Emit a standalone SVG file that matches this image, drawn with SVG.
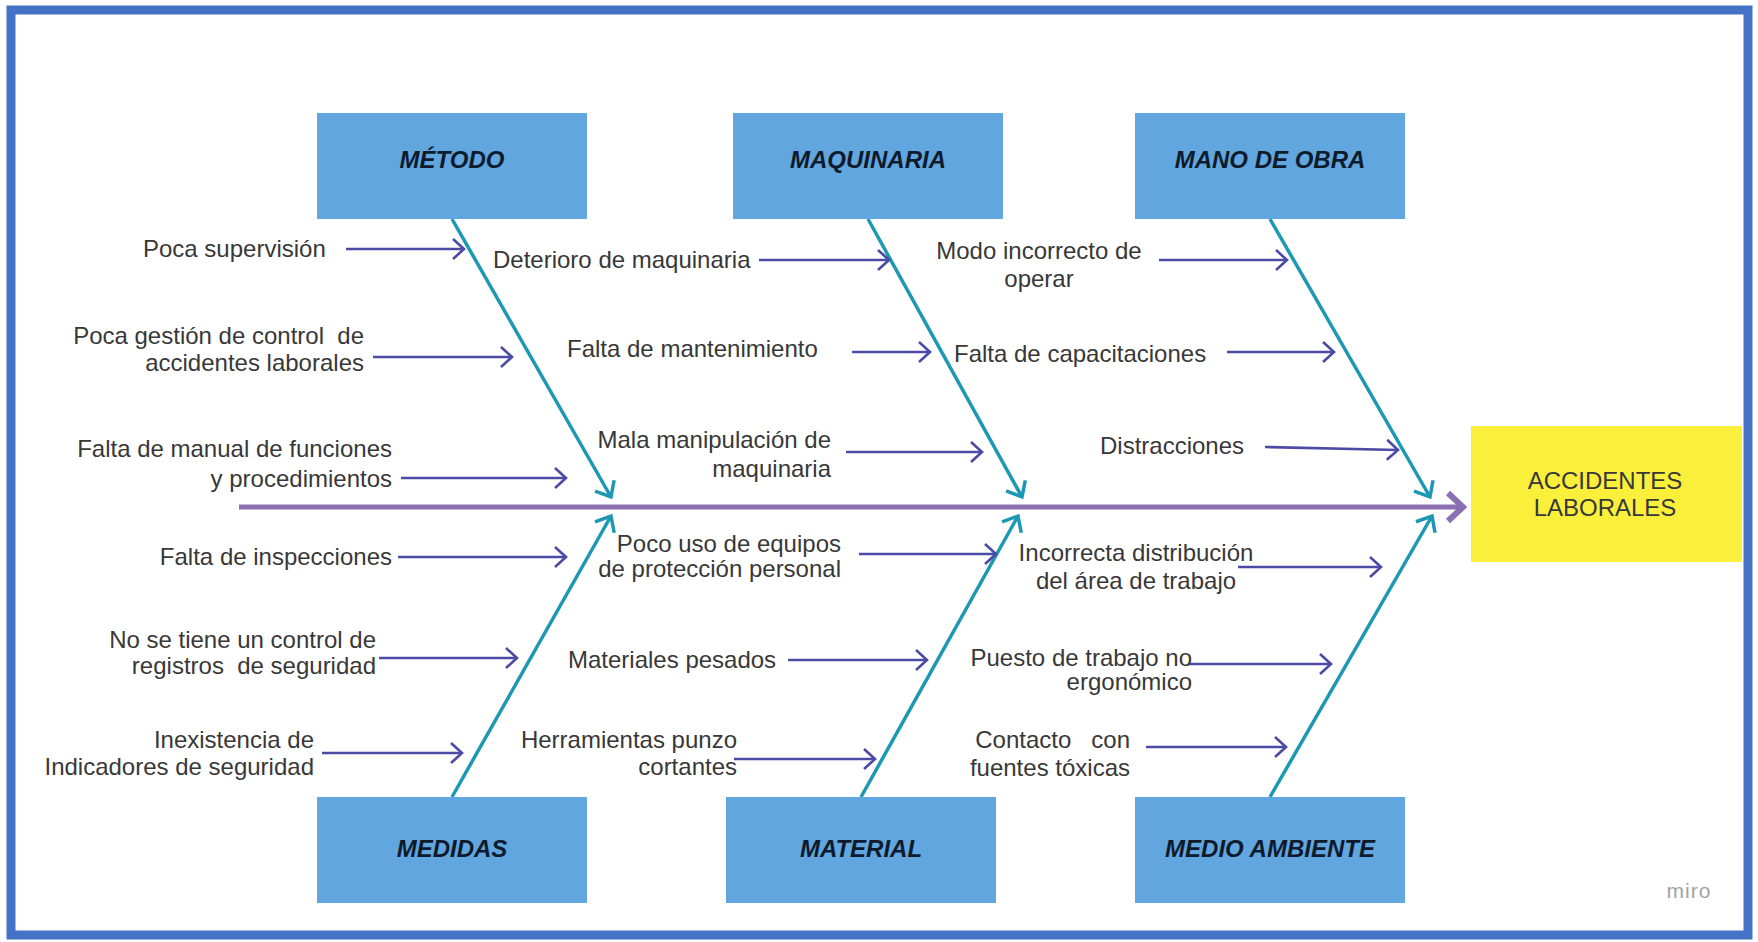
<svg xmlns="http://www.w3.org/2000/svg" width="1758" height="942" viewBox="0 0 1758 942">
<style>
.lbl{font-family:"Liberation Sans",Arial,sans-serif;font-size:24px;fill:#383838}
.hdr{font-family:"Liberation Sans",Arial,sans-serif;font-size:24px;font-weight:bold;font-style:italic;fill:#0e1b2c;text-anchor:middle}
.box{fill:#62a6df}
.cause{stroke:#4b4ba6;stroke-width:2.6;fill:none;marker-end:url(#mc)}
.bone{stroke:#1d98b3;stroke-width:3.5;fill:none;marker-end:url(#mb)}
.e{text-anchor:end}
.m{text-anchor:middle}
</style>
<defs>
<marker id="mc" markerUnits="userSpaceOnUse" markerWidth="16" markerHeight="26" refX="13" refY="12" orient="auto">
<path d="M2,2 L13,12 L2,22" fill="none" stroke="#4b4ba6" stroke-width="2.6"/>
</marker>
<marker id="mb" markerUnits="userSpaceOnUse" markerWidth="18" markerHeight="28" refX="15" refY="13" orient="auto">
<path d="M2,2 L15,13 L2,24" fill="none" stroke="#1d98b3" stroke-width="3.5"/>
</marker>
<marker id="ms" markerUnits="userSpaceOnUse" markerWidth="22" markerHeight="36" refX="18" refY="17" orient="auto">
<path d="M3,3 L18,17 L3,31" fill="none" stroke="#8a70b2" stroke-width="6"/>
</marker>
</defs>
<rect x="0" y="0" width="1758" height="942" fill="#ffffff"/>
<rect x="11" y="10" width="1737" height="925" fill="none" stroke="#4472c4" stroke-width="9"/>

<g id="connectors">
<line x1="239" y1="507" x2="1463" y2="507" stroke="#8a70b2" stroke-width="5" marker-end="url(#ms)"/>
<line class="bone" x1="452" y1="219" x2="611" y2="497"/>
<line class="bone" x1="868" y1="219" x2="1022" y2="497"/>
<line class="bone" x1="1270" y1="219" x2="1430" y2="497"/>
<line class="bone" x1="452" y1="797" x2="611" y2="516"/>
<line class="bone" x1="861" y1="797" x2="1018" y2="516"/>
<line class="bone" x1="1270" y1="797" x2="1432" y2="516"/>
<line class="cause" x1="346" y1="249" x2="464" y2="249"/>
<line class="cause" x1="373" y1="357" x2="512" y2="357"/>
<line class="cause" x1="401" y1="478" x2="566" y2="478"/>
<line class="cause" x1="398" y1="557" x2="566" y2="557"/>
<line class="cause" x1="379" y1="658" x2="517" y2="658"/>
<line class="cause" x1="322" y1="753" x2="462" y2="753"/>
<line class="cause" x1="759" y1="260" x2="889" y2="260"/>
<line class="cause" x1="852" y1="352" x2="930" y2="352"/>
<line class="cause" x1="846" y1="452" x2="982" y2="452"/>
<line class="cause" x1="859" y1="554" x2="996" y2="554"/>
<line class="cause" x1="788" y1="660" x2="927" y2="660"/>
<line class="cause" x1="734" y1="759" x2="875" y2="759"/>
<line class="cause" x1="1159" y1="260" x2="1287" y2="260"/>
<line class="cause" x1="1227" y1="352" x2="1334" y2="352"/>
<line class="cause" x1="1265" y1="447" x2="1398" y2="450"/>
<line class="cause" x1="1238" y1="567" x2="1381" y2="567"/>
<line class="cause" x1="1188" y1="664" x2="1331" y2="664"/>
<line class="cause" x1="1146" y1="747" x2="1286" y2="747"/>
</g>

<g id="metodo"><rect class="box" x="317" y="113" width="270" height="106"/><text class="hdr" x="452" y="168">MÉTODO</text></g>
<g id="maquinaria"><rect class="box" x="733" y="113" width="270" height="106"/><text class="hdr" x="868" y="168">MAQUINARIA</text></g>
<g id="mano-de-obra"><rect class="box" x="1135" y="113" width="270" height="106"/><text class="hdr" x="1270" y="168">MANO DE OBRA</text></g>
<g id="medidas"><rect class="box" x="317" y="797" width="270" height="106"/><text class="hdr" x="452" y="857">MEDIDAS</text></g>
<g id="material"><rect class="box" x="726" y="797" width="270" height="106"/><text class="hdr" x="861" y="857">MATERIAL</text></g>
<g id="medio-ambiente"><rect class="box" x="1135" y="797" width="270" height="106"/><text class="hdr" x="1270" y="857">MEDIO AMBIENTE</text></g>
<g id="accidentes-laborales"><rect x="1471" y="426" width="271" height="136" fill="#faf03c"/><text class="lbl m" x="1605" y="489">ACCIDENTES</text><text class="lbl m" x="1605" y="516">LABORALES</text></g>

<g id="causes">
<text class="lbl" x="143" y="257">Poca supervisión</text>
<text class="lbl e" x="364" y="344" xml:space="preserve">Poca gestión de control  de</text>
<text class="lbl e" x="364" y="371">accidentes laborales</text>
<text class="lbl e" x="392" y="457">Falta de manual de funciones</text>
<text class="lbl e" x="392" y="487">y procedimientos</text>
<text class="lbl e" x="392" y="565">Falta de inspecciones</text>
<text class="lbl e" x="376" y="648">No se tiene un control de</text>
<text class="lbl e" x="376" y="674" xml:space="preserve">registros  de seguridad</text>
<text class="lbl e" x="314" y="748">Inexistencia de</text>
<text class="lbl e" x="314" y="775">Indicadores de seguridad</text>
<text class="lbl" x="493" y="268">Deterioro de maquinaria</text>
<text class="lbl" x="567" y="357">Falta de mantenimiento</text>
<text class="lbl e" x="831" y="448">Mala manipulación de</text>
<text class="lbl e" x="831" y="477">maquinaria</text>
<text class="lbl e" x="841" y="552">Poco uso de equipos</text>
<text class="lbl e" x="841" y="577">de protección personal</text>
<text class="lbl" x="568" y="668">Materiales pesados</text>
<text class="lbl e" x="737" y="748">Herramientas punzo</text>
<text class="lbl e" x="737" y="775">cortantes</text>
<text class="lbl m" x="1039" y="259">Modo incorrecto de</text>
<text class="lbl m" x="1039" y="287">operar</text>
<text class="lbl" x="954" y="362">Falta de capacitaciones</text>
<text class="lbl" x="1100" y="454">Distracciones</text>
<text class="lbl m" x="1136" y="561">Incorrecta distribución</text>
<text class="lbl m" x="1136" y="589">del área de trabajo</text>
<text class="lbl e" x="1192" y="666">Puesto de trabajo no</text>
<text class="lbl e" x="1192" y="690">ergonómico</text>
<text class="lbl e" x="1130" y="748" xml:space="preserve">Contacto   con</text>
<text class="lbl e" x="1130" y="776">fuentes tóxicas</text>
</g>
<text x="1689" y="898" text-anchor="middle" font-family="'Liberation Sans',Arial,sans-serif" font-size="21" fill="#a3a3a3" letter-spacing="1">miro</text>
</svg>
